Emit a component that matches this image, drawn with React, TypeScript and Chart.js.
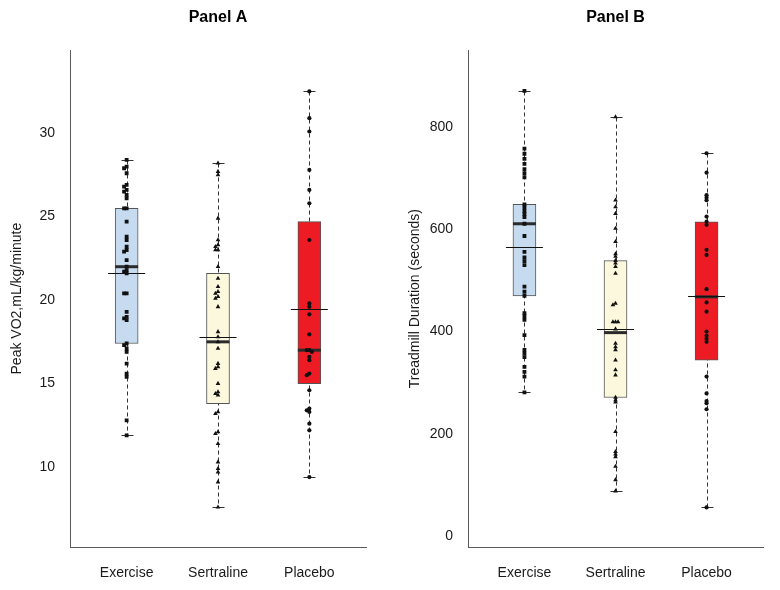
import React, { useEffect, useRef } from "react";
import { Chart, registerables } from "chart.js";

Chart.register(...registerables);

// ---------- shared ----------
const categories = ["Exercise", "Sertraline", "Placebo"];
const boxColors = ["#c6daf0", "#fcf8dd", "#ed1c24"];
const pointStyles = ["rect", "triangle", "circle"];
const pointRadii = [2.7, 2.7, 2.1];
const FONT = "'Liberation Sans', Arial, Helvetica, sans-serif";

// ---------- Panel A : Peak VO2 ----------
const vo2Ticks = [10, 15, 20, 25, 30];
const vo2Low = [11.9, 7.6, 9.4];
const vo2Q1 = [17.4, 13.8, 15.0];
const vo2Median = [22.0, 17.5, 17.0];
const vo2Q3 = [25.5, 21.6, 24.7];
const vo2High = [28.4, 28.2, 32.5];
const vo2Mean = [21.6, 17.8, 19.45];
const vo2Exercise = [28.4, 28.0, 27.9, 27.6, 26.9, 26.8, 26.6, 26.5, 26.3, 26.1, 25.5, 25.5, 24.7, 23.8, 23.6, 23.2, 23.0, 22.9, 22.4, 22.0, 21.8, 21.7, 21.6, 20.4, 20.4, 19.3, 19.0, 18.9, 18.8, 17.4, 17.3, 17.1, 16.9, 16.2, 15.6, 15.4, 12.8, 11.9];
const vo2Sertraline = [28.2, 27.7, 27.5, 24.9, 23.6, 23.3, 23.2, 23.0, 23.0, 22.0, 21.3, 20.8, 20.5, 20.4, 20.2, 20.1, 19.6, 18.1, 17.8, 17.5, 17.1, 16.2, 16.0, 15.9, 15.0, 14.5, 14.4, 14.3, 13.3, 13.2, 12.1, 12.0, 11.4, 10.3, 9.9, 9.7, 9.1, 7.6];
const vo2Placebo = [32.5, 30.9, 30.1, 27.8, 26.6, 25.8, 23.6, 19.8, 19.6, 19.15, 17.95, 17.0, 17.0, 16.9, 16.6, 16.4, 15.6, 15.5, 14.6, 13.5, 13.4, 13.3, 12.6, 12.2, 9.4];

// ---------- Panel B : Treadmill duration ----------
const tdTicks = [0, 200, 400, 600, 800];
const tdLow = [281, 88, 56];
const tdQ1 = [470, 271, 344];
const tdMedian = [611, 398, 468];
const tdQ3 = [649, 539, 615];
const tdHigh = [871, 820, 749];
const tdMean = [566, 405, 470];
const tdExercise = [871, 758, 748, 738, 728, 718, 710, 702, 649, 643, 636, 630, 624, 611, 587, 556, 545, 538, 530, 488, 478, 470, 436, 430, 423, 393, 364, 357, 350, 331, 321, 312, 281];
const tdSertraline = [820, 657, 644, 631, 602, 576, 552, 547, 539, 534, 527, 514, 455, 452, 419, 419, 419, 405, 377, 370, 364, 344, 325, 315, 271, 266, 262, 204, 165, 160, 155, 136, 110, 88];
const tdPlacebo = [749, 711, 667, 662, 657, 625, 615, 609, 560, 550, 483, 457, 439, 400, 392, 386, 380, 312, 279, 264, 260, 248, 56];

// deterministic side-by-side spreading of overlapping points
function spread(values: number[], center: number, threshold: number, step: number) {
  const placed: { v: number; k: number }[] = [];
  const seq = [0, -1, 1, -2, 2, -3, 3];
  return values.map((v) => {
    const used = placed.filter((p) => Math.abs(p.v - v) < threshold).map((p) => p.k);
    const k = seq.find((o) => !used.includes(o)) ?? 0;
    placed.push({ v, k });
    return { x: center + k * step, y: v };
  });
}

function makeBoxPlugin(low: number[], med: number[], high: number[], mean: number[]) {
  const CAP = 6;
  const BOX_W = 23;
  const MEAN_W = 37;
  return {
    id: "boxExtras",
    beforeDatasetsDraw(chart: any) {
      const { ctx } = chart;
      const xs = chart.scales.x;
      const ys = chart.scales.y;
      ctx.save();
      ctx.strokeStyle = "#333";
      ctx.lineWidth = 1;
      categories.forEach((_, i) => {
        const cx = Math.round(xs.getPixelForValue(i + 1)) + 0.5;
        const yLo = Math.round(ys.getPixelForValue(low[i])) + 0.5;
        const yHi = Math.round(ys.getPixelForValue(high[i])) + 0.5;
        ctx.setLineDash([4, 3]);
        ctx.beginPath();
        ctx.moveTo(cx, yHi);
        ctx.lineTo(cx, yLo);
        ctx.stroke();
        ctx.setLineDash([]);
        ctx.beginPath();
        ctx.moveTo(cx - CAP, yHi);
        ctx.lineTo(cx + CAP, yHi);
        ctx.moveTo(cx - CAP, yLo);
        ctx.lineTo(cx + CAP, yLo);
        ctx.stroke();
      });
      ctx.restore();
    },
    afterDatasetDraw(chart: any, args: any) {
      if (args.index !== 0) return;
      const { ctx } = chart;
      const xs = chart.scales.x;
      const ys = chart.scales.y;
      ctx.save();
      categories.forEach((_, i) => {
        const cx = xs.getPixelForValue(i + 1);
        const ym = ys.getPixelForValue(med[i]);
        ctx.strokeStyle = "#2b2b2b";
        ctx.lineWidth = 3;
        ctx.beginPath();
        ctx.moveTo(cx - BOX_W / 2, ym);
        ctx.lineTo(cx + BOX_W / 2, ym);
        ctx.stroke();
        const ya = Math.round(ys.getPixelForValue(mean[i])) + 0.5;
        ctx.strokeStyle = "#111";
        ctx.lineWidth = 1;
        ctx.beginPath();
        ctx.moveTo(cx - MEAN_W / 2, ya);
        ctx.lineTo(cx + MEAN_W / 2, ya);
        ctx.stroke();
      });
      ctx.restore();
    },
  };
}

type PanelProps = {
  title: string;
  yTitle: string;
  yMin: number;
  yMax: number;
  ticks: number[];
  low: number[];
  q1: number[];
  med: number[];
  q3: number[];
  high: number[];
  mean: number[];
  groups: number[][];
  threshold: number;
  yAxisWidth: number;
  yTitlePad: number;
  rightPad: number;
};

function Panel(p: PanelProps) {
  const ref = useRef<HTMLCanvasElement | null>(null);
  useEffect(() => {
    if (!ref.current) return;
    const tickFont = { family: FONT, size: 14 };
    const chart = new Chart(ref.current, {
      type: "bar",
      data: {
        datasets: [
          {
            type: "bar",
            data: categories.map((_, i) => ({ x: i + 1, y: [p.q1[i], p.q3[i]] })) as any,
            backgroundColor: boxColors,
            borderColor: "#555",
            borderWidth: 1,
            borderSkipped: false,
            barThickness: 23,
            order: 2,
          } as any,
          ...p.groups.map((g, i) => ({
            type: "scatter",
            data: spread(g, i + 1, p.threshold, 0.028),
            pointStyle: pointStyles[i],
            pointRadius: pointRadii[i],
            backgroundColor: "#111",
            borderColor: "#111",
            borderWidth: 0,
            order: 1,
          })) as any,
        ],
      },
      options: {
        animation: false,
        responsive: false,
        maintainAspectRatio: false,
        layout: { padding: { top: 0, left: 0, bottom: 0, right: p.rightPad } },
        plugins: {
          legend: { display: false },
          tooltip: { enabled: false },
          title: {
            display: true,
            text: p.title,
            fullSize: false,
            color: "#000",
            font: { family: FONT, size: 16, weight: "bold" },
            padding: { top: 8, bottom: 23 },
          },
        },
        scales: {
          x: {
            type: "linear",
            min: 0.38,
            max: 3.62,
            offset: false,
            grid: { display: false, drawTicks: false },
            border: { display: true, color: "#5a5a5a", width: 1 },
            ticks: {
              padding: 18,
              color: "#1a1a1a",
              font: tickFont,
              autoSkip: false,
              maxRotation: 0,
              callback: (v: any) => categories[Math.round(Number(v)) - 1] ?? "",
            },
            afterBuildTicks: (s: any) => {
              s.ticks = categories.map((_, i) => ({ value: i + 1 }));
            },
            afterFit: (s: any) => {
              s.height = 43;
            },
          },
          y: {
            type: "linear",
            min: p.yMin,
            max: p.yMax,
            grid: { display: false, drawTicks: false },
            border: { display: true, color: "#5a5a5a", width: 1 },
            ticks: { padding: 15, color: "#1a1a1a", font: tickFont },
            afterBuildTicks: (s: any) => {
              s.ticks = p.ticks.map((v) => ({ value: v }));
            },
            afterFit: (s: any) => {
              s.width = p.yAxisWidth;
            },
            title: {
              display: true,
              text: p.yTitle,
              color: "#1a1a1a",
              font: { family: FONT, size: 14 },
              padding: { top: p.yTitlePad, bottom: 0 },
            },
          },
        },
      } as any,
      plugins: [makeBoxPlugin(p.low, p.med, p.high, p.mean)],
    });
    return () => chart.destroy();
  }, []);
  return (
    <div style={{ position: "relative", width: 390, height: 590 }}>
      <canvas ref={ref} width={390} height={590} style={{ display: "block" }} />
    </div>
  );
}

export default function App() {
  return (
    <div
      style={{
        position: "absolute",
        left: 0,
        top: 0,
        width: 780,
        height: 590,
        background: "#fff",
        display: "flex",
      }}
    >
      <Panel
        title="Panel A"
        yTitle="Peak VO2,mL/kg/minute"
        yMin={5.21}
        yMax={34.97}
        ticks={vo2Ticks}
        low={vo2Low}
        q1={vo2Q1}
        med={vo2Median}
        q3={vo2Q3}
        high={vo2High}
        mean={vo2Mean}
        groups={[vo2Exercise, vo2Sertraline, vo2Placebo]}
        threshold={0.15}
        yAxisWidth={70}
        yTitlePad={8.6}
        rightPad={24}
      />
      <Panel
        title="Panel B"
        yTitle="Treadmill Duration (seconds)"
        yMin={-21.5}
        yMax={950.6}
        ticks={tdTicks}
        low={tdLow}
        q1={tdQ1}
        med={tdMedian}
        q3={tdQ3}
        high={tdHigh}
        mean={tdMean}
        groups={[tdExercise, tdSertraline, tdPlacebo]}
        threshold={4}
        yAxisWidth={78}
        yTitlePad={16.6}
        rightPad={17}
      />
    </div>
  );
}
